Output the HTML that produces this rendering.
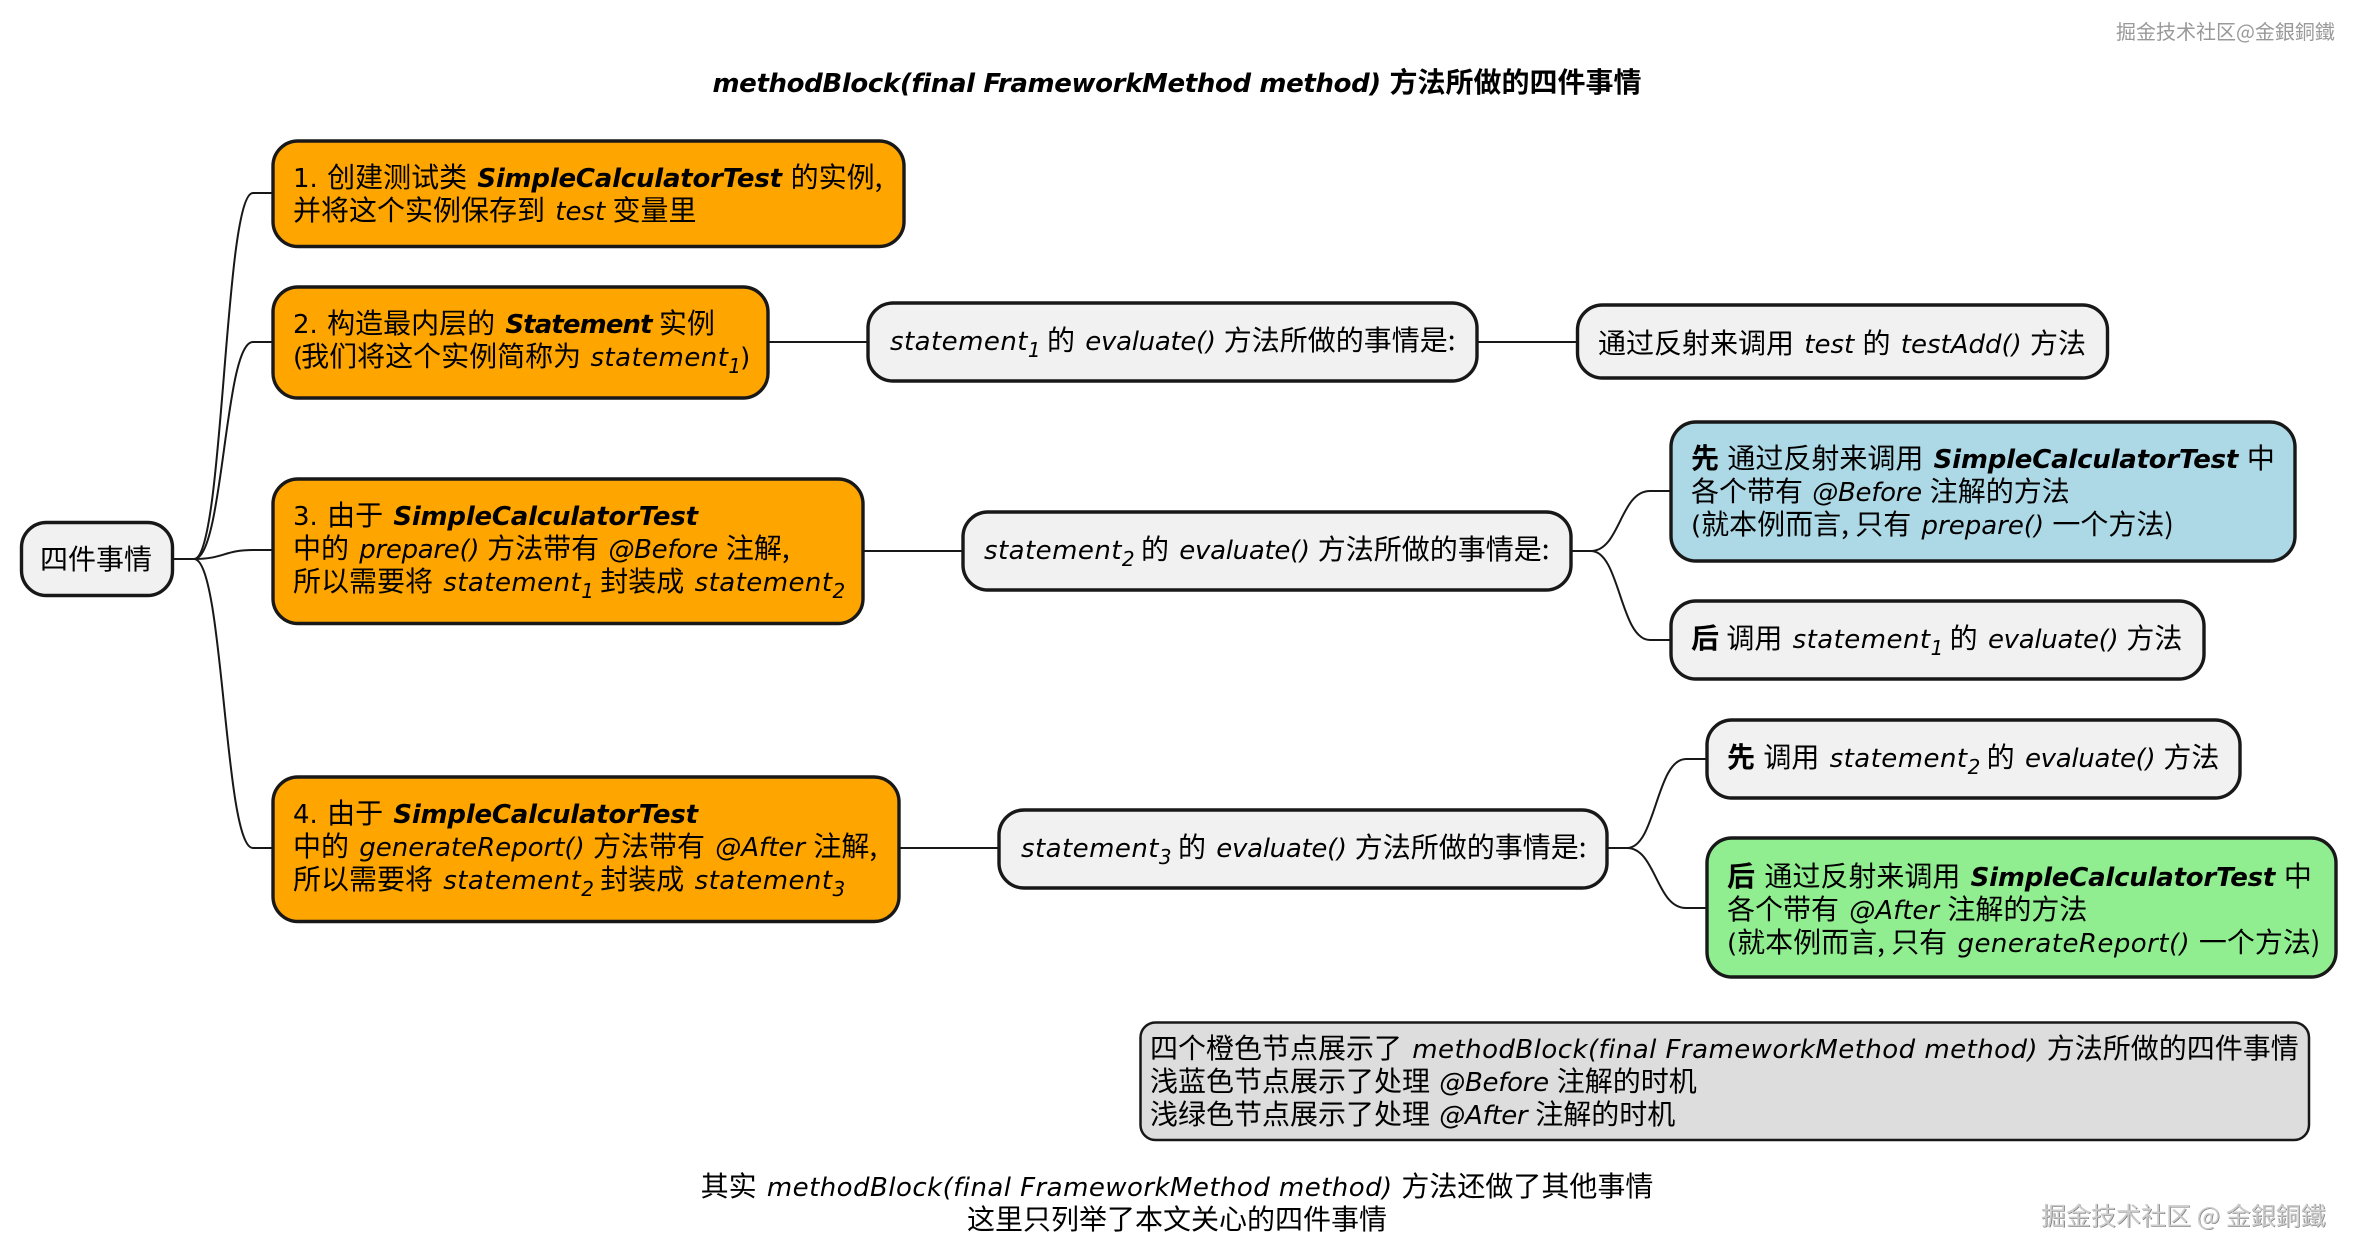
<!DOCTYPE html>
<html><head><meta charset="utf-8"><style>
html,body{margin:0;padding:0;background:#fff}
svg{display:block}
text{font-family:"DejaVu Sans","Noto Sans CJK SC",sans-serif;fill:#000;font-size:26px;white-space:pre}
.c{font-family:"Noto Sans CJK SC","DejaVu Sans",sans-serif;font-size:28px}
.i{font-style:italic}
.b{font-weight:bold}
.sc{letter-spacing:-.22px}
.st{letter-spacing:.45px}
.m{letter-spacing:.45px}
.e{letter-spacing:-.3px}
.bs{letter-spacing:-.9px}
.tb{letter-spacing:-.37px}
.s{font-size:20px;font-style:italic}
.n{stroke:#181818;stroke-width:3.4}
.g{stroke:#181818;stroke-width:2.5}
.l{fill:none;stroke:#181818;stroke-width:2}
</style></head><body>
<svg width="2357" height="1260" viewBox="0 0 2357 1260" xmlns="http://www.w3.org/2000/svg">
<rect width="2357" height="1260" fill="#fff"/>
<g class="l">
<path d="M173 559H194C224 559 224 193 253 193H273"/>
<path d="M173 559H194C224 559 224 342 253 342H273"/>
<path d="M173 559H194C224 559 224 550 253 550H273"/>
<path d="M173 559H194C224 559 224 848 253 848H273"/>
<path d="M768 342H867M863 551H962M899 848H998M1477 342H1576"/>
<path d="M1571 551H1591C1620 551 1620 491 1650 491H1670"/>
<path d="M1571 551H1591C1620 551 1620 640 1650 640H1670"/>
<path d="M1607 848H1627C1656 848 1656 759 1686 759H1706"/>
<path d="M1607 848H1627C1656 848 1656 908 1686 908H1706"/>
</g>
<g class="n">
<rect x="21.5" y="522.5" width="151" height="73" rx="25" fill="#F1F1F1"/>
<rect x="273" y="141" width="631" height="105.5" rx="25" fill="#FFA500"/>
<rect x="273" y="287" width="495" height="111" rx="25" fill="#FFA500"/>
<rect x="273" y="479" width="590" height="144.5" rx="25" fill="#FFA500"/>
<rect x="273" y="777" width="626" height="144.5" rx="25" fill="#FFA500"/>
<rect x="868" y="303" width="609" height="78" rx="25" fill="#F1F1F1"/>
<rect x="1577.5" y="305" width="530" height="73" rx="25" fill="#F1F1F1"/>
<rect x="963" y="512" width="608" height="78" rx="25" fill="#F1F1F1"/>
<rect x="1671" y="422" width="624" height="139" rx="25" fill="#ADD8E6"/>
<rect x="1671" y="601" width="533" height="78" rx="25" fill="#F1F1F1"/>
<rect x="999" y="810" width="608" height="78" rx="25" fill="#F1F1F1"/>
<rect x="1707" y="720" width="533" height="78" rx="25" fill="#F1F1F1"/>
<rect x="1707" y="838" width="629" height="139" rx="25" fill="#90EE90"/>
</g>
<rect class="g" x="1140.5" y="1022.5" width="1168.5" height="117.5" rx="15" fill="#DDDDDD"/>

<text x="1177" y="92" text-anchor="middle"><tspan class="i b tb">methodBlock(final FrameworkMethod method) </tspan><tspan class="c b">方法所做的四件事情</tspan></text>
<text x="2116" y="39" style="fill:#999;font-size:20px" class="c">掘金技术社区@金銀銅鐵</text>

<text x="40" y="569" class="c">四件事情</text>

<text x="293" y="187"><tspan>1. </tspan><tspan class="c" dx="1">创建测试类 </tspan><tspan class="i b sc" dx="4">SimpleCalculatorTest </tspan><tspan class="c">的实例,</tspan></text>
<text x="293" y="220"><tspan class="c">并将这个实例保存到 </tspan><tspan class="i" dx="4">test </tspan><tspan class="c" dx="-1">变量里</tspan></text>

<text x="293" y="333"><tspan>2. </tspan><tspan class="c" dx="1">构造最内层的 </tspan><tspan class="i b bs" dx="4">Statement </tspan><tspan class="c" dx="-1">实例</tspan></text>
<text x="293" y="366"><tspan>(</tspan><tspan class="c" dx="-2">我们将这个实例简称为 </tspan><tspan class="i st" dx="3">statement</tspan><tspan class="s" dy="7">1</tspan><tspan dy="-7" dx="-1">)</tspan></text>

<text x="293" y="525"><tspan>3. </tspan><tspan class="c" dx="1">由于 </tspan><tspan class="i b sc" dx="4">SimpleCalculatorTest</tspan></text>
<text x="293" y="558"><tspan class="c">中的 </tspan><tspan class="i e" dx="4">prepare() </tspan><tspan class="c">方法带有 </tspan><tspan class="i e" dx="3">@Before </tspan><tspan class="c">注解,</tspan></text>
<text x="293" y="591"><tspan class="c">所以需要将 </tspan><tspan class="i st" dx="4">statement</tspan><tspan class="s" dy="7">1 </tspan><tspan class="c" dy="-7">封装成 </tspan><tspan class="i st" dx="4">statement</tspan><tspan class="s" dy="7">2</tspan></text>

<text x="293" y="823"><tspan>4. </tspan><tspan class="c" dx="1">由于 </tspan><tspan class="i b sc" dx="4">SimpleCalculatorTest</tspan></text>
<text x="293" y="856"><tspan class="c">中的 </tspan><tspan class="i" dx="4">generateReport() </tspan><tspan class="c">方法带有 </tspan><tspan class="i" dx="4">@After </tspan><tspan class="c">注解,</tspan></text>
<text x="293" y="889"><tspan class="c">所以需要将 </tspan><tspan class="i st" dx="4">statement</tspan><tspan class="s" dy="7">2 </tspan><tspan class="c" dy="-7">封装成 </tspan><tspan class="i st" dx="4">statement</tspan><tspan class="s" dy="7">3</tspan></text>

<text x="890" y="350"><tspan class="i st">statement</tspan><tspan class="s" dy="7">1 </tspan><tspan class="c" dy="-7">的 </tspan><tspan class="i e" dx="4">evaluate() </tspan><tspan class="c">方法所做的事情是:</tspan></text>
<text x="1598" y="353"><tspan class="c">通过反射来调用 </tspan><tspan class="i" dx="4">test </tspan><tspan class="c">的 </tspan><tspan class="i" dx="4">testAdd() </tspan><tspan class="c">方法</tspan></text>

<text x="984" y="559"><tspan class="i st">statement</tspan><tspan class="s" dy="7">2 </tspan><tspan class="c" dy="-7">的 </tspan><tspan class="i e" dx="4">evaluate() </tspan><tspan class="c">方法所做的事情是:</tspan></text>

<text x="1691" y="468"><tspan class="c b">先 </tspan><tspan class="c" dx="2">通过反射来调用 </tspan><tspan class="i b sc" dx="4">SimpleCalculatorTest </tspan><tspan class="c">中</tspan></text>
<text x="1691" y="501"><tspan class="c">各个带有 </tspan><tspan class="i e" dx="3">@Before </tspan><tspan class="c">注解的方法</tspan></text>
<text x="1691" y="534"><tspan>(</tspan><tspan class="c">就本例而言, 只有 </tspan><tspan class="i" dx="4">prepare() </tspan><tspan class="c">一个方法)</tspan></text>

<text x="1691" y="648"><tspan class="c b">后 </tspan><tspan class="c" dx="1">调用 </tspan><tspan class="i st" dx="4">statement</tspan><tspan class="s" dy="7">1 </tspan><tspan class="c" dy="-7">的 </tspan><tspan class="i e" dx="4">evaluate() </tspan><tspan class="c">方法</tspan></text>

<text x="1021" y="857"><tspan class="i st">statement</tspan><tspan class="s" dy="7">3 </tspan><tspan class="c" dy="-7">的 </tspan><tspan class="i e" dx="4">evaluate() </tspan><tspan class="c">方法所做的事情是:</tspan></text>

<text x="1727" y="767"><tspan class="c b">先 </tspan><tspan class="c" dx="2">调用 </tspan><tspan class="i st" dx="4">statement</tspan><tspan class="s" dy="7">2 </tspan><tspan class="c" dy="-7">的 </tspan><tspan class="i e" dx="4">evaluate() </tspan><tspan class="c">方法</tspan></text>

<text x="1727" y="886"><tspan class="c b">后 </tspan><tspan class="c" dx="3">通过反射来调用 </tspan><tspan class="i b sc" dx="4">SimpleCalculatorTest </tspan><tspan class="c">中</tspan></text>
<text x="1727" y="919"><tspan class="c">各个带有 </tspan><tspan class="i" dx="4">@After </tspan><tspan class="c">注解的方法</tspan></text>
<text x="1727" y="952"><tspan>(</tspan><tspan class="c">就本例而言, 只有 </tspan><tspan class="i st" dx="4">generateReport() </tspan><tspan class="c">一个方法)</tspan></text>

<text x="1150" y="1058"><tspan class="c">四个橙色节点展示了 </tspan><tspan class="i m" dx="4">methodBlock(final FrameworkMethod method) </tspan><tspan class="c">方法所做的四件事情</tspan></text>
<text x="1150" y="1091"><tspan class="c">浅蓝色节点展示了处理 </tspan><tspan class="i e" dx="3">@Before </tspan><tspan class="c">注解的时机</tspan></text>
<text x="1150" y="1124"><tspan class="c">浅绿色节点展示了处理 </tspan><tspan class="i e" dx="3">@After </tspan><tspan class="c">注解的时机</tspan></text>

<text x="1177" y="1196" text-anchor="middle"><tspan class="c">其实 </tspan><tspan class="i m" dx="4">methodBlock(final FrameworkMethod method) </tspan><tspan class="c">方法还做了其他事情</tspan></text>
<text x="1177" y="1229" text-anchor="middle" class="c">这里只列举了本文关心的四件事情</text>

<text x="2041.7" y="1225.7" class="c" style="font-size:25px;fill:#777">掘金技术社区 @ 金銀銅鐵</text>
<text x="2041" y="1225" class="c" style="font-size:25px;fill:#ccc">掘金技术社区 @ 金銀銅鐵</text>
</svg>
</body></html>
